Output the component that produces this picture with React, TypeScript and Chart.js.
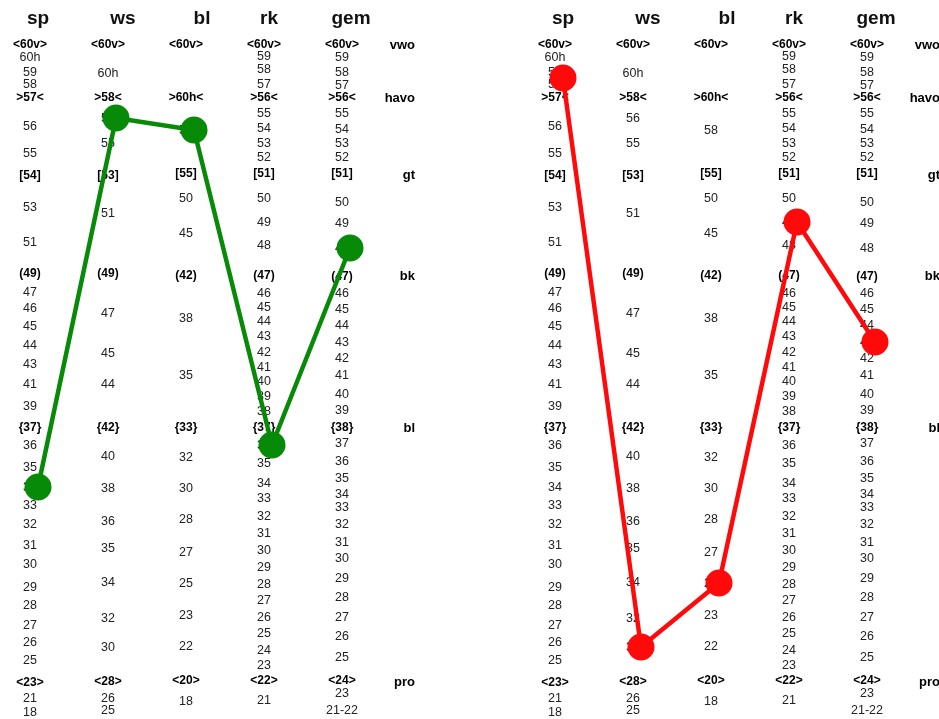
import { useEffect, useRef } from "react";
import { Chart, registerables } from "chart.js";

Chart.register(...registerables);

// Subjects (column headers) and school levels (right-hand labels)
const SUBJECTS = ["sp", "ws", "bl", "rk", "gem"];
const LEVELS = ["vwo", "havo", "gt", "bk", "bl", "pro"];
// Level boundaries on the profile scale (0 = top, 719 = bottom)
const LEVEL_POS = [44, 97, 174, 275, 427, 681];

// Norm scales per subject: [label, position on profile scale]
const SP_SCALE: [string, number][] = [
  ["<60v>", 44], ["60h", 57], ["59", 72], ["58", 84], [">57<", 97], ["56", 126], ["55", 153],
  ["[54]", 175], ["53", 207], ["51", 242], ["(49)", 273], ["47", 292], ["46", 308], ["45", 326],
  ["44", 345], ["43", 364], ["41", 384], ["39", 406], ["{37}", 427], ["36", 445], ["35", 467],
  ["34", 487], ["33", 505], ["32", 524], ["31", 545], ["30", 564], ["29", 587], ["28", 605],
  ["27", 625], ["26", 642], ["25", 660], ["<23>", 682], ["21", 698], ["18", 712],
];
const WS_SCALE: [string, number][] = [
  ["<60v>", 44], ["60h", 73], [">58<", 97], ["56", 118], ["55", 143], ["[53]", 175], ["51", 213],
  ["(49)", 273], ["47", 313], ["45", 353], ["44", 384], ["{42}", 427], ["40", 456], ["38", 488],
  ["36", 521], ["35", 548], ["34", 582], ["32", 618], ["30", 647], ["<28>", 681], ["26", 698],
  ["25", 710],
];
const BL_SCALE: [string, number][] = [
  ["<60v>", 44], [">60h<", 97], ["58", 130], ["[55]", 173], ["50", 198], ["45", 233], ["(42)", 275],
  ["38", 318], ["35", 375], ["{33}", 427], ["32", 457], ["30", 488], ["28", 519], ["27", 552],
  ["25", 583], ["23", 615], ["22", 646], ["<20>", 680], ["18", 701],
];
const RK_SCALE: [string, number][] = [
  ["<60v>", 44], ["59", 56], ["58", 69], ["57", 84], [">56<", 97], ["55", 113], ["54", 128],
  ["53", 143], ["52", 157], ["[51]", 173], ["50", 198], ["49", 222], ["48", 245], ["(47)", 275],
  ["46", 293], ["45", 307], ["44", 321], ["43", 336], ["42", 352], ["41", 367], ["40", 381],
  ["39", 396], ["38", 411], ["{37}", 427], ["36", 445], ["35", 463], ["34", 483], ["33", 498],
  ["32", 516], ["31", 533], ["30", 550], ["29", 567], ["28", 584], ["27", 600], ["26", 617],
  ["25", 633], ["24", 650], ["23", 665], ["<22>", 680], ["21", 700],
];
const GEM_SCALE: [string, number][] = [
  ["<60v>", 44], ["59", 57], ["58", 72], ["57", 85], [">56<", 97], ["55", 113], ["54", 129],
  ["53", 143], ["52", 157], ["[51]", 173], ["50", 202], ["49", 223], ["48", 248], ["(47)", 276],
  ["46", 293], ["45", 309], ["44", 325], ["43", 342], ["42", 358], ["41", 375], ["40", 394],
  ["39", 410], ["{38}", 427], ["37", 443], ["36", 461], ["35", 478], ["34", 494], ["33", 507],
  ["32", 524], ["31", 542], ["30", 558], ["29", 578], ["28", 597], ["27", 617], ["26", 636],
  ["25", 657], ["<24>", 680], ["23", 693], ["21-22", 710],
];
const SCALES = [SP_SCALE, WS_SCALE, BL_SCALE, RK_SCALE, GEM_SCALE];

// Scores of the two students (left panel green, right panel red)
const STUDENT_GREEN = [34, 56, 58, 36, 48];
const STUDENT_RED = [58.5, 30, 25, 49, 43];

// ---- layout / style constants ----
const W = 939;
const H = 719;
const COL_PX = 78; // px per column unit
const FIRST_COL_PX = 38;
const PANEL_OFFSET = 525 / COL_PX; // second panel shift in column units
const LABEL_SHIFT = -8 / COL_PX;
const LEVEL_X = 377 / COL_PX; // right edge of level names
const HEADER_NUDGE = [0, 7, 8, -3, 1];
const TEXT_DY = 1;
const FONT = "'Liberation Sans', Arial, sans-serif";

function scoreNumber(label: string): number | null {
  const m = label.match(/^[^\d]*(\d+)[^\d]*$/);
  if (!m) return null;
  if (/[hv]/.test(label)) return null;
  return parseFloat(m[1]);
}

function positionOf(col: number, score: number): number {
  const entries = SCALES[col]
    .map(([l, p]) => ({ v: scoreNumber(l), p }))
    .filter((e) => e.v !== null) as { v: number; p: number }[];
  const exact = entries.find((e) => e.v === score);
  if (exact) return exact.p;
  const above = entries.filter((e) => e.v > score).sort((a, b) => a.v - b.v)[0];
  const below = entries.filter((e) => e.v < score).sort((a, b) => b.v - a.v)[0];
  if (above && below) {
    const t = (score - below.v) / (above.v - below.v);
    return below.p + (above.p - below.p) * t;
  }
  return (above || below).p;
}

const textPlugin = {
  id: "profileText",
  beforeDatasetsDraw(chart: any) {
    const { ctx } = chart;
    const xs = chart.scales.x;
    const ys = chart.scales.y;
    ctx.save();
    ctx.textBaseline = "middle";
    [0, PANEL_OFFSET].forEach((off) => {
      // headers
      ctx.fillStyle = "#111";
      ctx.textAlign = "center";
      ctx.font = `bold 19px ${FONT}`;
      SUBJECTS.forEach((s, i) => {
        ctx.fillText(s, xs.getPixelForValue(i + off) + HEADER_NUDGE[i], 19);
      });
      // column scales
      SCALES.forEach((scale, i) => {
        const x = xs.getPixelForValue(i + off + LABEL_SHIFT);
        scale.forEach(([label, pos]) => {
          const bold = /^[<>\[\(\{]/.test(label);
          ctx.font = bold ? `bold 12px ${FONT}` : `12.5px ${FONT}`;
          ctx.fillStyle = bold ? "#000" : "#222";
          ctx.fillText(label, x, ys.getPixelForValue(pos) + TEXT_DY);
        });
      });
      // level names
      ctx.textAlign = "right";
      ctx.font = `bold 13px ${FONT}`;
      ctx.fillStyle = "#000";
      LEVELS.forEach((lv, k) => {
        ctx.fillText(lv, xs.getPixelForValue(LEVEL_X + off), ys.getPixelForValue(LEVEL_POS[k]) + TEXT_DY);
      });
    });
    ctx.restore();
  },
};

export default function App() {
  const ref = useRef<HTMLCanvasElement | null>(null);
  useEffect(() => {
    if (!ref.current) return;
    const chart = new Chart(ref.current, {
      type: "line",
      data: {
        datasets: [
          {
            data: STUDENT_GREEN.map((v, i) => ({ x: i, y: positionOf(i, v) })),
            borderColor: "#078a07",
            backgroundColor: "#078a07",
            borderWidth: 4.5,
            pointRadius: 13.5,
            pointBorderWidth: 0,
            pointBackgroundColor: "#078a07",
            clip: false,
          } as any,
          {
            data: STUDENT_RED.map((v, i) => ({ x: i + PANEL_OFFSET, y: positionOf(i, v) })),
            borderColor: "#ff0a0a",
            backgroundColor: "#ff0a0a",
            borderWidth: 4.5,
            pointRadius: 13.5,
            pointBorderWidth: 0,
            pointBackgroundColor: "#ff0a0a",
            clip: false,
          } as any,
        ],
      },
      options: {
        animation: false,
        responsive: false,
        devicePixelRatio: 1,
        layout: { padding: 0, autoPadding: false },
        scales: {
          x: {
            type: "linear",
            display: false,
            min: -FIRST_COL_PX / COL_PX,
            max: (W - FIRST_COL_PX) / COL_PX,
          },
          y: { type: "linear", display: false, min: 0, max: H, reverse: true },
        },
        plugins: { legend: { display: false }, tooltip: { enabled: false } },
      },
      plugins: [textPlugin],
    });
    return () => chart.destroy();
  }, []);
  return (
    <div
      style={{
        position: "absolute",
        left: 0,
        top: 0,
        width: W,
        height: H,
        background: "#fff",
        overflow: "hidden",
      }}
    >
      <canvas ref={ref} width={W} height={H} style={{ display: "block" }} />
    </div>
  );
}
